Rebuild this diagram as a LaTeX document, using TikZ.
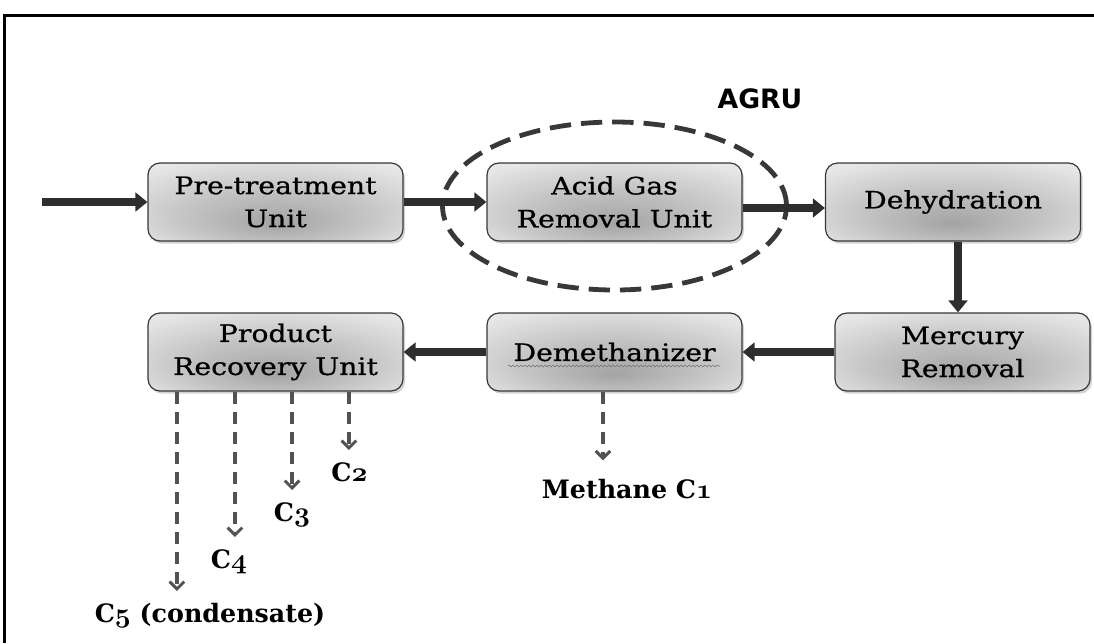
\documentclass[tikz,border=0pt]{standalone}
\usepackage{fontspec}
\newfontfamily\boxfont{DejaVu Serif}[FakeStretch=1.18, FakeBold=0.8]
\newfontfamily\agrufont{DejaVu Sans}
\newfontfamily\lblfont{DejaVu Serif}
\usetikzlibrary{arrows.meta,shadows,shapes.geometric,decorations.pathmorphing}
\newcommand\osn[1]{{\fontencoding{OML}\fontfamily{cmm}\fontseries{b}\fontshape{it}\fontsize{22}{24}\selectfont #1}}
\pgfdeclareradialshading{boxshade}{\pgfpoint{0bp}{-14bp}}{%
  color(0bp)=(black!36); color(18bp)=(black!23); color(34bp)=(black!10); color(50bp)=(black!4)}
\tikzset{
  proc/.style={draw=black!78, line width=0.9pt, rounded corners=9pt,
    minimum width=191.25pt, minimum height=58.5pt, inner sep=0pt,
    shade, shading=boxshade, align=center,
    drop shadow={opacity=0.35, shadow xshift=1.5pt, shadow yshift=-2pt},
    font=\boxfont\fontsize{18}{24.75}\selectfont},
  flow/.style={draw=black!82, line width=5.5pt, -{Triangle[length=9pt,width=14pt]}},
  outflow/.style={draw=black!68, line width=2.6pt, dash pattern=on 9pt off 6pt,
    -{Straight Barb[length=5.5pt,width=11pt,line width=2.2pt]}, shorten >=9pt},
  lbl/.style={font=\lblfont\bfseries\fontsize{19}{22}\selectfont, inner sep=0pt, anchor=north},
}
\begin{document}
\begin{tikzpicture}[x=0.75pt,y=-0.75pt]
\useasboundingbox (0,0) rectangle (1094,643);
% frame
\draw[line width=2.25pt] (4.7,643) -- (4.7,15.7) -- (1094,15.7);
% AGRU grouping
\node[draw=black!78, dash pattern=on 16pt off 7.5pt, line width=3.6pt, ellipse,
  minimum width=258pt, minimum height=126pt, inner sep=0pt] (ring) at (614.5,206) {};
\node[font=\agrufont\bfseries\fontsize{20}{24}\selectfont, inner sep=0pt] (agrulbl) at (760,99) {AGRU};
% process boxes
\node[proc] (pre) at (275.5,202) {Pre-treatment\\Unit};
\node[proc] (agr) at (614.5,202) {Acid Gas\\Removal Unit};
\node[proc] (dehy) at (953,202) {Dehydration};
\node[proc] (merc) at (962.5,352) {Mercury\\Removal};
\node[proc] (demeth) at (614.5,352) {Demethanizer};
\node[proc] (prod) at (275.5,352) {Product\\Recovery Unit};
\draw[black!55, line width=0.4pt, decorate, decoration={snake, amplitude=0.7pt, segment length=3pt}]
  ([xshift=-80pt,yshift=-10.5pt]demeth.center) -- ([xshift=79pt,yshift=-10.5pt]demeth.center);
% main flow
\coordinate (in) at (42,202);
\draw[flow] (in) -- (pre.west);
\draw[flow] (pre.east) -- (agr.west);
\draw[flow] ([yshift=-4.5pt]agr.east) -- ([yshift=-4.5pt]dehy.west);
\coordinate (d1) at ([xshift=3.75pt]dehy.south);
\draw[flow] (d1) -- (d1 |- merc.north);
\draw[flow] (merc.west) -- (merc.west -| demeth.east);
\draw[flow] (demeth.west) -- (demeth.west -| prod.east);
% products
\node[lbl] (c2) at (349.5,462) {C\osn{2}};
\node[lbl] (c3) at (292,502) {C\osn{3}};
\node[lbl] (c4) at (229,549) {C\osn{4}};
\node[lbl] (c5) at (210,603) {C\osn{5} (condensate)};
\node[lbl] (meth) at (627,479) {Methane C\osn{1}};
\coordinate (p2) at ([xshift=55.1pt]prod.south);
\coordinate (p3) at ([xshift=12.4pt]prod.south);
\coordinate (p4) at ([xshift=-30.4pt]prod.south);
\coordinate (p5) at ([xshift=-73.9pt]prod.south);
\coordinate (pm) at ([xshift=-8.6pt]demeth.south);
\draw[outflow] (p2) -- (p2 |- c2.north);
\draw[outflow] (p3) -- (p3 |- c3.north);
\draw[outflow] (p4) -- (p4 |- c4.north);
\draw[outflow] (p5) -- (p5 |- c5.north);
\draw[outflow, shorten >=14pt] (pm) -- (pm |- meth.north);
\end{tikzpicture}
\end{document}
